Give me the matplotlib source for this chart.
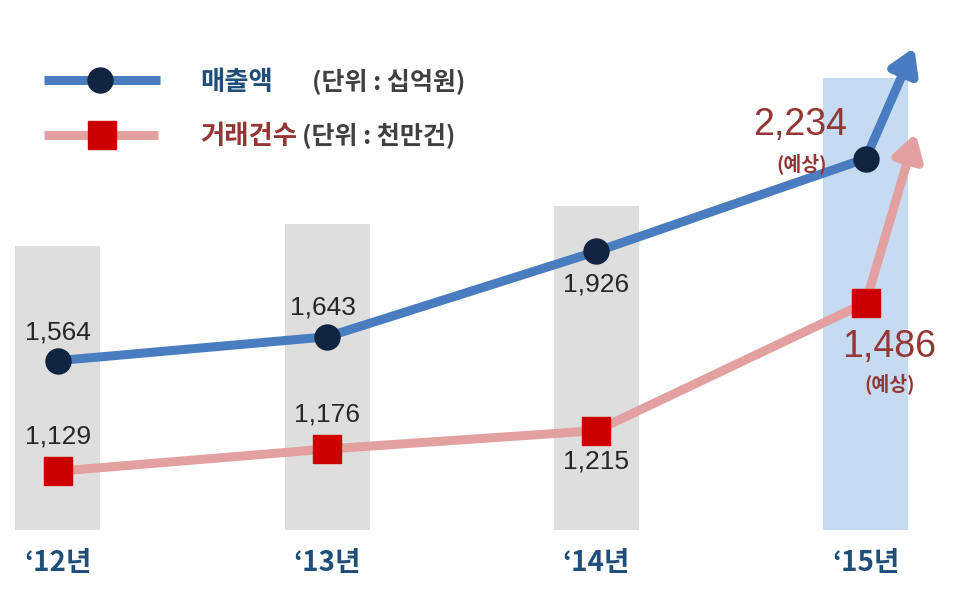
import matplotlib
matplotlib.use("Agg")
import matplotlib.pyplot as plt
from matplotlib.lines import Line2D

# data
years = ["\u201812년", "\u201813년", "\u201814년", "\u201815년"]
sales = [1564, 1643, 1926, 2234]        # 매출액 (단위: 십억원)
deals = [1129, 1176, 1215, 1486]        # 거래건수 (단위: 천만건)
sales_labels = ["1,564", "1,643", "1,926", "2,234"]
deals_labels = ["1,129", "1,176", "1,215", "1,486"]
forecast = [False, False, False, True]

KR = ["Noto Sans CJK KR", "DejaVu Sans"]
NUM = ["Liberation Sans", "Noto Sans CJK KR"]

BLUE = "#4a7dc0"
NAVY = "#0f2440"
PINK = "#e3a0a0"
RED = "#cc0000"
DARKRED = "#943634"
YEARBLUE = "#1f4e79"
GRAY_BAND = "#dedede"
BLUE_BAND = "#c6dbf2"

fig = plt.figure(figsize=(9.68, 5.91), dpi=100)
ax = fig.add_axes([0, 0, 1, 1])       # sales axis
ax_r = ax.twinx()                     # deals axis (bands live here too)
ax_r.set_zorder(ax.get_zorder() - 1)
ax.patch.set_visible(False)

x = list(range(len(years)))
XLIM = (-0.215, 3.38)
BLUE_LIM = (800, 2760)
RED_LIM = (875, 2128)
for a, lim in ((ax, BLUE_LIM), (ax_r, RED_LIM)):
    a.set_xlim(*XLIM)
    a.set_ylim(*lim)
    a.axis("off")

# background bands, following the deals trend
band_pad = 477
band_bottom = RED_LIM[0] + (61 / 591) * (RED_LIM[1] - RED_LIM[0])
band_colors = [BLUE_BAND if f else GRAY_BAND for f in forecast]
ax_r.bar(x, [d + band_pad - band_bottom for d in deals], bottom=band_bottom,
         width=0.316, color=band_colors, zorder=0)

# lines
ax_r.plot(x, deals, color=PINK, lw=6.5, marker="s", ms=20, mfc=RED, mec=RED,
          solid_capstyle="butt", zorder=3)
ax.plot(x, sales, color=BLUE, lw=6.5, marker="o", ms=18, mfc=NAVY, mec=NAVY,
        solid_capstyle="butt", zorder=3)

# trend arrows from the forecast point
ax.annotate("", xy=(x[-1], sales[-1]), xytext=(35, 80), textcoords="offset points",
            arrowprops=dict(arrowstyle="<|-,head_length=0.9,head_width=0.55",
                            mutation_scale=16, color=BLUE, lw=6.5,
                            shrinkA=0, shrinkB=0), zorder=2)
ax_r.annotate("", xy=(x[-1], deals[-1]), xytext=(36, 122), textcoords="offset points",
              arrowprops=dict(arrowstyle="<|-,head_length=0.9,head_width=0.55",
                              mutation_scale=16, color=PINK, lw=6.5,
                              shrinkA=0, shrinkB=0), zorder=2)

# value labels
s_off = [(0, 20), (-3, 21), (0, -24), (-47, 24)]
d_off = [(0, 25), (0, 25), (0, -22), (17, -32)]
for i in x:
    if forecast[i]:
        ax.annotate(sales_labels[i], (i, sales[i]), xytext=s_off[i], textcoords="offset points",
                    ha="center", va="center", fontsize=27, color=DARKRED, family=NUM)
        ax.annotate("(예상)", (i, sales[i]), xytext=(s_off[i][0] + 1, -4),
                    textcoords="offset points", ha="center", va="center",
                    fontsize=14, color=DARKRED, family=KR, fontweight="bold")
        ax_r.annotate(deals_labels[i], (i, deals[i]), xytext=d_off[i], textcoords="offset points",
                      ha="center", va="center", fontsize=27, color=DARKRED, family=NUM)
        ax_r.annotate("(예상)", (i, deals[i]), xytext=(d_off[i][0], -58),
                      textcoords="offset points", ha="center", va="center",
                      fontsize=14, color=DARKRED, family=KR, fontweight="bold")
    else:
        ax.annotate(sales_labels[i], (i, sales[i]), xytext=s_off[i], textcoords="offset points",
                    ha="center", va="center", fontsize=19, color="#262626", family=NUM)
        ax_r.annotate(deals_labels[i], (i, deals[i]), xytext=d_off[i], textcoords="offset points",
                      ha="center", va="center", fontsize=19, color="#262626", family=NUM)

# year labels
for i, yl in zip(x, years):
    ax.text(i, 0.048, yl, transform=ax.get_xaxis_transform(), ha="center", va="center",
            fontsize=20, fontweight="bold", color=YEARBLUE, family=KR)

# legend drawn by hand
W, H = 968, 591
fig.add_artist(Line2D([44 / W, 160 / W], [1 - 80 / H] * 2, color=BLUE, lw=6.5,
                      solid_capstyle="butt", transform=fig.transFigure))
fig.add_artist(Line2D([100 / W], [1 - 80 / H], marker="o", ms=18, color=NAVY,
                      transform=fig.transFigure))
fig.add_artist(Line2D([44 / W, 158 / W], [1 - 135 / H] * 2, color=PINK, lw=6.5,
                      solid_capstyle="butt", transform=fig.transFigure))
fig.add_artist(Line2D([102 / W], [1 - 135 / H], marker="s", ms=20, color=RED,
                      transform=fig.transFigure))
fig.text(200 / W, 1 - 82 / H, "매출액", fontsize=19, fontweight="bold", color=YEARBLUE,
         family=KR, va="center")
fig.text(312 / W, 1 - 82 / H, "(단위 : 십억원)", fontsize=18, fontweight="bold",
         color="#404040", family=KR, va="center")
fig.text(200 / W, 1 - 136 / H, "거래건수", fontsize=19, fontweight="bold", color=DARKRED,
         family=KR, va="center")
fig.text(302 / W, 1 - 136 / H, "(단위 : 천만건)", fontsize=18, fontweight="bold",
         color="#404040", family=KR, va="center")

fig.savefig("out.png", dpi=100)
